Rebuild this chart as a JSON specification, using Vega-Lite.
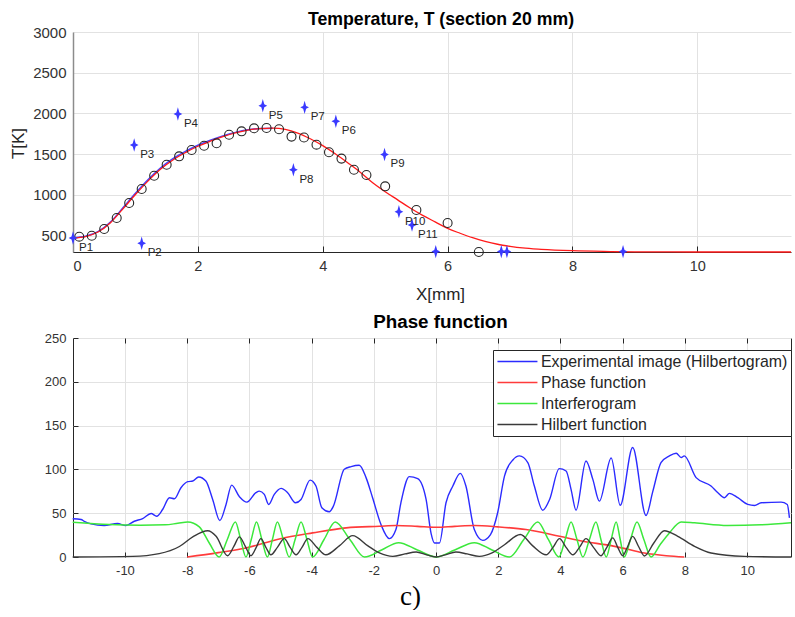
{
  "$schema": "https://vega.github.io/schema/vega-lite/v6.json",
  "padding": {"left": 9, "top": 11, "right": 0, "bottom": 0},
  "background": "white",
  "bounds": "flush",
  "spacing": 86,
  "config": {
    "font": "Liberation Sans",
    "view": {"stroke": null},
    "axis": {"gridColor": "#e2e2e2", "labelColor": "#333333", "titleColor": "#262626", "titleFontWeight": "normal", "domainColor": "#262626", "tickColor": "#262626", "labelFont": "Liberation Sans", "titleFont": "Liberation Sans"},
    "title": {"font": "Liberation Sans", "fontWeight": "bold", "color": "#000000"},
    "legend": {"labelFont": "Liberation Sans"}
  },
  "datasets": {
    "fitRed": [{"X":0,"T":472},{"X":0.2,"T":490},{"X":0.4,"T":545},{"X":0.6,"T":660},{"X":0.8,"T":830},{"X":1.0,"T":1005},{"X":1.2,"T":1170},{"X":1.4,"T":1315},{"X":1.6,"T":1430},{"X":1.8,"T":1520},{"X":2.0,"T":1598},{"X":2.2,"T":1660},{"X":2.4,"T":1715},{"X":2.6,"T":1762},{"X":2.8,"T":1797},{"X":3.0,"T":1815},{"X":3.2,"T":1820},{"X":3.4,"T":1805},{"X":3.6,"T":1760},{"X":3.8,"T":1690},{"X":4.0,"T":1605},{"X":4.2,"T":1505},{"X":4.4,"T":1395},{"X":4.6,"T":1280},{"X":4.8,"T":1150},{"X":5.0,"T":1040},{"X":5.2,"T":940},{"X":5.4,"T":840},{"X":5.6,"T":750},{"X":5.8,"T":670},{"X":6.0,"T":590},{"X":6.2,"T":530},{"X":6.4,"T":475},{"X":6.6,"T":430},{"X":6.8,"T":395},{"X":7.0,"T":370},{"X":7.2,"T":350},{"X":7.5,"T":333},{"X":8.0,"T":316},{"X":8.5,"T":307},{"X":9.0,"T":302},{"X":10.0,"T":300},{"X":11.5,"T":300}],
    "fitBlue": [{"X":0,"T":476},{"X":0.2,"T":494},{"X":0.4,"T":550},{"X":0.6,"T":668},{"X":0.8,"T":842},{"X":1.0,"T":1020},{"X":1.2,"T":1186},{"X":1.4,"T":1330},{"X":1.6,"T":1445},{"X":1.8,"T":1535},{"X":2.0,"T":1610},{"X":2.2,"T":1672},{"X":2.4,"T":1725},{"X":2.6,"T":1768},{"X":2.8,"T":1800},{"X":3.0,"T":1816},{"X":3.2,"T":1820}],
    "circles": [{"X":0.1,"T":488},{"X":0.3,"T":500},{"X":0.5,"T":582},{"X":0.7,"T":717},{"X":0.9,"T":901},{"X":1.1,"T":1073},{"X":1.3,"T":1236},{"X":1.5,"T":1371},{"X":1.7,"T":1474},{"X":1.9,"T":1552},{"X":2.1,"T":1604},{"X":2.3,"T":1634},{"X":2.5,"T":1739},{"X":2.7,"T":1781},{"X":2.9,"T":1818},{"X":3.1,"T":1822},{"X":3.3,"T":1806},{"X":3.5,"T":1716},{"X":3.7,"T":1705},{"X":3.9,"T":1617},{"X":4.1,"T":1524},{"X":4.3,"T":1446},{"X":4.5,"T":1310},{"X":4.7,"T":1245},{"X":5.0,"T":1106},{"X":5.5,"T":815},{"X":6.0,"T":656},{"X":6.5,"T":300}],
    "stars": [{"X":0.0,"T":472,"label":"P1"},{"X":1.1,"T":407,"label":"P2"},{"X":0.98,"T":1613,"label":"P3"},{"X":1.68,"T":1993,"label":"P4"},{"X":3.04,"T":2095,"label":"P5"},{"X":4.21,"T":1904,"label":"P6"},{"X":3.71,"T":2075,"label":"P7"},{"X":3.53,"T":1310,"label":"P8"},{"X":4.99,"T":1497,"label":"P9"},{"X":5.22,"T":795,"label":"P10"},{"X":5.43,"T":631,"label":"P11"},{"X":5.81,"T":305,"label":""},{"X":6.86,"T":305,"label":""},{"X":6.95,"T":305,"label":""},{"X":8.81,"T":305,"label":""}],
    "exp": [{"x":-11.68,"v":43.6},{"x":-11.41,"v":42.8},{"x":-11.31,"v":40.8},{"x":-11.09,"v":37.8},{"x":-10.67,"v":35.9},{"x":-10.24,"v":38.2},{"x":-9.97,"v":35.9},{"x":-9.7,"v":40.8},{"x":-9.43,"v":43.9},{"x":-9.16,"v":49.7},{"x":-8.98,"v":46.6},{"x":-8.79,"v":54.2},{"x":-8.57,"v":67.6},{"x":-8.41,"v":66.5},{"x":-8.2,"v":79.1},{"x":-7.98,"v":86},{"x":-7.82,"v":86.7},{"x":-7.63,"v":91.3},{"x":-7.4,"v":86.7},{"x":-7.18,"v":65.7},{"x":-6.95,"v":41.6},{"x":-6.75,"v":60},{"x":-6.57,"v":82.1},{"x":-6.32,"v":68.8},{"x":-6.08,"v":62.6},{"x":-5.79,"v":73.4},{"x":-5.68,"v":75.2},{"x":-5.52,"v":71.4},{"x":-5.38,"v":60},{"x":-5.2,"v":71.4},{"x":-4.98,"v":78.3},{"x":-4.77,"v":73.4},{"x":-4.52,"v":61.9},{"x":-4.34,"v":65.7},{"x":-4.05,"v":87.8},{"x":-3.86,"v":81},{"x":-3.67,"v":56.2},{"x":-3.43,"v":51.6},{"x":-3.3,"v":58},{"x":-2.95,"v":100.1},{"x":-2.73,"v":103.2},{"x":-2.47,"v":104.7},{"x":-2.25,"v":90.6},{"x":-2.04,"v":67.7},{"x":-1.77,"v":37},{"x":-1.5,"v":21},{"x":-1.29,"v":31.3},{"x":-1.13,"v":61.9},{"x":-0.86,"v":91.7},{"x":-0.59,"v":89.4},{"x":-0.32,"v":65.7},{"x":-0.16,"v":27},{"x":-0.05,"v":16},{"x":0.11,"v":16},{"x":0.32,"v":61.9},{"x":0.54,"v":81},{"x":0.78,"v":95.5},{"x":0.96,"v":81},{"x":1.23,"v":31.3},{"x":1.5,"v":19},{"x":1.75,"v":25.6},{"x":1.98,"v":50.5},{"x":2.2,"v":92.4},{"x":2.47,"v":110.8},{"x":2.68,"v":115.4},{"x":2.95,"v":107.8},{"x":3.16,"v":81},{"x":3.43,"v":53.4},{"x":3.65,"v":65.7},{"x":3.96,"v":100.9},{"x":4.18,"v":98.2},{"x":4.34,"v":77.2},{"x":4.5,"v":53.4},{"x":4.82,"v":109.6},{"x":5.04,"v":88.6},{"x":5.25,"v":63.8},{"x":5.63,"v":113},{"x":5.92,"v":59},{"x":6.32,"v":125},{"x":6.75,"v":47.4},{"x":6.97,"v":75.2},{"x":7.23,"v":107.8},{"x":7.5,"v":115.4},{"x":7.72,"v":118.5},{"x":7.88,"v":113.5},{"x":7.98,"v":115.4},{"x":8.36,"v":90.6},{"x":8.84,"v":81},{"x":9.06,"v":73.4},{"x":9.27,"v":67.7},{"x":9.43,"v":72.6},{"x":9.7,"v":67.7},{"x":10.02,"v":60},{"x":10.24,"v":58.8},{"x":10.45,"v":61.9},{"x":11.09,"v":62.6},{"x":11.29,"v":60},{"x":11.36,"v":44.7}],
    "phase": [{"x":-8,"v":0},{"x":-7,"v":5},{"x":-6.11,"v":10.3},{"x":-5.04,"v":20.6},{"x":-3.97,"v":27.5},{"x":-2.89,"v":33.3},{"x":-1.82,"v":35.1},{"x":-1.29,"v":35.9},{"x":-0.6,"v":35},{"x":0,"v":34},{"x":0.6,"v":35},{"x":1.23,"v":35.9},{"x":1.98,"v":34.4},{"x":2.89,"v":31.3},{"x":3.97,"v":23.6},{"x":4.72,"v":17.9},{"x":5.63,"v":13},{"x":6.2,"v":8.5},{"x":6.7,"v":4.6},{"x":7.4,"v":1.5},{"x":7.98,"v":0}],
    "interf": [{"x":-11.68,"v":39.7},{"x":-10.5,"v":37},{"x":-9.5,"v":36.3},{"x":-8.7,"v":36.7},{"x":-8.3,"v":38.5},{"x":-7.98,"v":40},{"x":-7.61,"v":34.4},{"x":-7.29,"v":16},{"x":-6.97,"v":0},{"x":-6.71,"v":20},{"x":-6.45,"v":40},{"x":-6.28,"v":20},{"x":-6.11,"v":0},{"x":-5.94,"v":20},{"x":-5.77,"v":40},{"x":-5.6,"v":20},{"x":-5.42,"v":0},{"x":-5.26,"v":20},{"x":-5.1,"v":40},{"x":-4.91,"v":20},{"x":-4.72,"v":0},{"x":-4.53,"v":20},{"x":-4.34,"v":40},{"x":-4.15,"v":20},{"x":-3.97,"v":0},{"x":-3.6,"v":20},{"x":-3.24,"v":40},{"x":-2.77,"v":20},{"x":-2.3,"v":0},{"x":-1.75,"v":8},{"x":-1.2,"v":16.4},{"x":-0.6,"v":8},{"x":0,"v":0},{"x":0.6,"v":8},{"x":1.23,"v":16.4},{"x":1.8,"v":8},{"x":2.36,"v":0},{"x":2.82,"v":20},{"x":3.27,"v":40},{"x":3.61,"v":20},{"x":3.95,"v":0},{"x":4.15,"v":20},{"x":4.34,"v":40},{"x":4.53,"v":20},{"x":4.72,"v":0},{"x":4.93,"v":20},{"x":5.14,"v":40},{"x":5.3,"v":20},{"x":5.47,"v":0},{"x":5.63,"v":20},{"x":5.79,"v":40},{"x":5.92,"v":20},{"x":6.05,"v":0},{"x":6.25,"v":20},{"x":6.46,"v":40},{"x":6.68,"v":20},{"x":6.91,"v":0},{"x":7.2,"v":14},{"x":7.5,"v":27.5},{"x":7.88,"v":40},{"x":8.31,"v":39},{"x":9.37,"v":36},{"x":10.45,"v":36.7},{"x":11.41,"v":39}],
    "hilb": [{"x":-11.68,"v":0},{"x":-9.75,"v":0.7},{"x":-8.9,"v":3.8},{"x":-8.25,"v":12},{"x":-7.82,"v":23},{"x":-7.34,"v":30},{"x":-7.07,"v":23.6},{"x":-6.7,"v":1.5},{"x":-6.5,"v":12},{"x":-6.32,"v":23},{"x":-6.13,"v":12},{"x":-5.95,"v":1.5},{"x":-5.78,"v":11},{"x":-5.63,"v":21},{"x":-5.47,"v":11},{"x":-5.31,"v":2.5},{"x":-5.1,"v":11},{"x":-4.88,"v":21},{"x":-4.69,"v":11},{"x":-4.5,"v":2.5},{"x":-4.31,"v":11},{"x":-4.12,"v":21},{"x":-3.83,"v":11},{"x":-3.54,"v":2.5},{"x":-3.1,"v":13},{"x":-2.68,"v":24.4},{"x":-2.2,"v":13},{"x":-1.82,"v":4.6},{"x":-1.39,"v":0.7},{"x":-1.0,"v":3.5},{"x":-0.64,"v":5.7},{"x":-0.3,"v":2.5},{"x":0,"v":0},{"x":0.3,"v":2.5},{"x":0.64,"v":5.7},{"x":1.0,"v":3.5},{"x":1.39,"v":0.7},{"x":1.8,"v":4.6},{"x":2.2,"v":14},{"x":2.71,"v":25.6},{"x":3.1,"v":13},{"x":3.54,"v":2.5},{"x":3.76,"v":11},{"x":3.97,"v":21},{"x":4.18,"v":11},{"x":4.4,"v":2.5},{"x":4.61,"v":11},{"x":4.82,"v":21},{"x":5.06,"v":11},{"x":5.3,"v":1.5},{"x":5.49,"v":11},{"x":5.68,"v":21.8},{"x":5.84,"v":11},{"x":6.0,"v":1.5},{"x":6.16,"v":12},{"x":6.32,"v":23.6},{"x":6.51,"v":12},{"x":6.7,"v":1.2},{"x":7.0,"v":16},{"x":7.34,"v":30},{"x":7.77,"v":23.6},{"x":8.31,"v":12.2},{"x":8.84,"v":4.6},{"x":9.91,"v":0.7},{"x":11.41,"v":0}]
  },
  "vconcat": [
    {
      "width": 718,
      "height": 220,
      "title": {"text": "Temperature, T (section 20 mm)", "fontSize": 17.7, "offset": -4, "dx": 9, "frame": "group"},
      "encoding": {
        "x": {"field": "X", "type": "quantitative", "scale": {"domain": [0, 11.5], "nice": false, "zero": false},
          "axis": {"title": "X[mm]", "values": [0, 2, 4, 6, 8, 10], "tickSize": -6, "labelPadding": 13, "labelFontSize": 14.5, "titleFontSize": 17, "titleX": 367, "titleY": 47, "titleBaseline": "alphabetic", "labelExpr": "toString(datum.value)"}},
        "y": {"field": "T", "type": "quantitative", "scale": {"domain": [300, 3000], "nice": false, "zero": false},
          "axis": {"title": "T[K]", "values": [500, 1000, 1500, 2000, 2500, 3000], "ticks": false, "labelPadding": 7, "labelFontSize": 15, "labelExpr": "toString(datum.value)", "titleFontSize": 17, "titleX": -55, "titleY": 111, "titleAngle": -90, "titleAlign": "center", "titleBaseline": "middle", "domainColor": "#8c8c8c", "domainWidth": 1.5}}
      },
      "layer": [
        {"data": {"name": "fitBlue"}, "mark": {"type": "line", "color": "#4444ff", "strokeWidth": 1.5, "interpolate": "monotone"}},
        {"data": {"name": "fitRed"}, "mark": {"type": "line", "color": "#ff1a1a", "strokeWidth": 1.3, "interpolate": "monotone"}},
        {"data": {"name": "circles"}, "mark": {"type": "point", "shape": "circle", "filled": false, "stroke": "#262626", "strokeWidth": 1.1, "size": 80, "opacity": 1}},
        {"data": {"name": "stars"}, "mark": {"type": "point", "shape": "M0,-1L0.22,-0.22L0.65,0L0.22,0.22L0,1L-0.22,0.22L-0.65,0L-0.22,-0.22Z", "filled": true, "color": "#3a3aff", "size": 180, "strokeWidth": 0, "opacity": 1}},
        {"data": {"name": "stars"}, "mark": {"type": "text", "align": "left", "baseline": "middle", "dx": 6, "dy": 10, "fontSize": 11.5, "color": "#262626"}, "encoding": {"text": {"field": "label"}}}
      ]
    },
    {
      "width": 718,
      "height": 219,
      "view": {"stroke": "#262626", "strokeWidth": 1},
      "title": {"text": "Phase function", "fontSize": 18.8, "offset": 0, "dx": 8.5, "frame": "group"},
      "encoding": {
        "x": {"field": "x", "type": "quantitative", "scale": {"domain": [-11.67, 11.41], "nice": false, "zero": false},
          "axis": {"title": "c)", "values": [-10, -8, -6, -4, -2, 0, 2, 4, 6, 8, 10], "tickSize": -5, "labelPadding": 12, "labelFontSize": 13, "domain": false, "labelExpr": "toString(datum.value)", "titleFont": "Liberation Serif", "titleFontSize": 27, "titleColor": "#000000", "titleX": 337, "titleY": 47, "titleBaseline": "alphabetic"}},
        "y": {"field": "v", "type": "quantitative", "scale": {"domain": [0, 250], "nice": false},
          "axis": {"title": null, "values": [0, 50, 100, 150, 200, 250], "tickSize": -5, "labelPadding": 12, "labelFontSize": 13, "domain": false, "labelExpr": "toString(datum.value)"}}
      },
      "layer": [
        {"data": {"name": "exp"}, "mark": {"type": "line", "strokeWidth": 1.4, "interpolate": "monotone"},
          "encoding": {"color": {"datum": "Experimental image (Hilbertogram)", "type": "nominal",
            "scale": {"domain": ["Experimental image (Hilbertogram)", "Phase function", "Interferogram", "Hilbert function"], "range": ["#2b2bff", "#ff3b3b", "#3ce83c", "#3a3a3a"]},
            "legend": {"title": null, "orient": "none", "legendX": 420, "legendY": 318, "symbolType": "M-3.5,0H16.5", "symbolSize": 16, "symbolStrokeWidth": 1.3, "labelFontSize": 15.9, "labelColor": "#262626", "labelOffset": 28.5, "rowPadding": 5, "padding": 3.5, "clipHeight": 16, "fillColor": "#ffffff", "strokeColor": "#262626", "labelLimit": 400}}}},
        {"data": {"name": "phase"}, "mark": {"type": "line", "strokeWidth": 1.6, "interpolate": "monotone"},
          "encoding": {"x": {"field": "x", "type": "quantitative", "axis": null}, "color": {"datum": "Phase function", "type": "nominal",
            "scale": {"domain": ["Experimental image (Hilbertogram)", "Phase function", "Interferogram", "Hilbert function"], "range": ["#2b2bff", "#ff3b3b", "#3ce83c", "#3a3a3a"]},
            "legend": {"title": null, "orient": "none", "legendX": 420, "legendY": 318, "symbolType": "M-3.5,0H16.5", "symbolSize": 16, "symbolStrokeWidth": 1.3, "labelFontSize": 15.9, "labelColor": "#262626", "labelOffset": 28.5, "rowPadding": 5, "padding": 3.5, "clipHeight": 16, "fillColor": "#ffffff", "strokeColor": "#262626", "labelLimit": 400}}}},
        {"data": {"name": "interf"}, "mark": {"type": "line", "strokeWidth": 1.5, "interpolate": "monotone"},
          "encoding": {"x": {"field": "x", "type": "quantitative", "axis": null}, "color": {"datum": "Interferogram", "type": "nominal",
            "scale": {"domain": ["Experimental image (Hilbertogram)", "Phase function", "Interferogram", "Hilbert function"], "range": ["#2b2bff", "#ff3b3b", "#3ce83c", "#3a3a3a"]},
            "legend": {"title": null, "orient": "none", "legendX": 420, "legendY": 318, "symbolType": "M-3.5,0H16.5", "symbolSize": 16, "symbolStrokeWidth": 1.3, "labelFontSize": 15.9, "labelColor": "#262626", "labelOffset": 28.5, "rowPadding": 5, "padding": 3.5, "clipHeight": 16, "fillColor": "#ffffff", "strokeColor": "#262626", "labelLimit": 400}}}},
        {"data": {"name": "hilb"}, "mark": {"type": "line", "strokeWidth": 1.4, "interpolate": "monotone"},
          "encoding": {"x": {"field": "x", "type": "quantitative", "axis": null}, "color": {"datum": "Hilbert function", "type": "nominal",
            "scale": {"domain": ["Experimental image (Hilbertogram)", "Phase function", "Interferogram", "Hilbert function"], "range": ["#2b2bff", "#ff3b3b", "#3ce83c", "#3a3a3a"]},
            "legend": {"title": null, "orient": "none", "legendX": 420, "legendY": 318, "symbolType": "M-3.5,0H16.5", "symbolSize": 16, "symbolStrokeWidth": 1.3, "labelFontSize": 15.9, "labelColor": "#262626", "labelOffset": 28.5, "rowPadding": 5, "padding": 3.5, "clipHeight": 16, "fillColor": "#ffffff", "strokeColor": "#262626", "labelLimit": 400}}}},
        {"data": {"name": "exp"}, "mark": {"type": "point", "opacity": 0},
          "encoding": {"x": {"field": "x", "type": "quantitative", "axis": {"orient": "top", "title": null, "labels": false, "grid": false, "domain": false, "tickSize": -5, "values": [-10, -8, -6, -4, -2, 0, 2, 4, 6, 8, 10]}}}}
      ],
      "resolve": {"axis": {"x": "independent"}}
    }
  ]
}
